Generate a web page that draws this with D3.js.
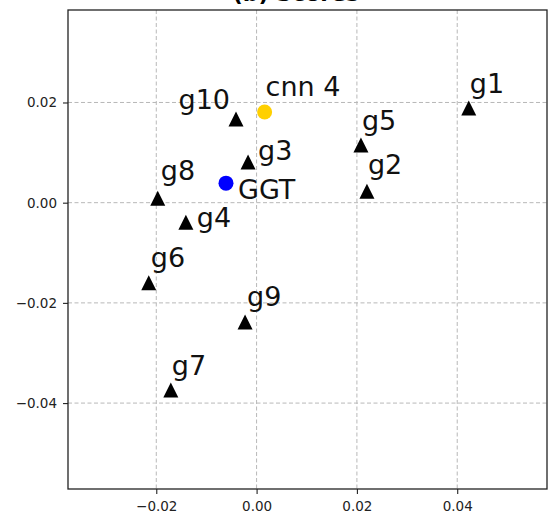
<!DOCTYPE html>
<html>
<head>
<meta charset="utf-8">
<script src="https://cdn.jsdelivr.net/npm/d3@7"></script>
<style>
  html, body { margin: 0; padding: 0; background: #fff; }
  svg { display: block; }
  text { font-family: "DejaVu Sans", sans-serif; }
</style>
</head>
<body>
<script>
// Embedding coordinates of the generators and the two reference models
const names   = ["g1", "g2", "g3", "g4", "g5", "g6", "g7", "g8", "g9", "g10", "cnn 4", "GGT"];
const xVals   = [0.0423, 0.0220, -0.0017, -0.0141, 0.0208, -0.0215, -0.0171, -0.0197, -0.0023, -0.0041, 0.0016, -0.0061];
const yVals   = [0.0189, 0.0023, 0.0081, -0.0039, 0.0115, -0.0160, -0.0374, 0.0009, -0.0238, 0.0167, 0.0181, 0.0039];
const kinds   = ["tri", "tri", "tri", "tri", "tri", "tri", "tri", "tri", "tri", "tri", "ref", "ref"];
const colors  = ["#000000", "#000000", "#000000", "#000000", "#000000", "#000000", "#000000", "#000000", "#000000", "#000000", "#ffd000", "#0000ff"];
const xTicks  = [-0.02, 0.00, 0.02, 0.04];
const yTicks  = [-0.04, -0.02, 0.00, 0.02];
const xDomain = [-0.0376, 0.0579];
const yDomain = [-0.05715, 0.03846];
const title   = "(b) Scores";

// label placement relative to each marker (pixels): [dx, dy, anchor]
const labelPlace = [
  [1, -15, "start"], [1, -17, "start"], [10, -2, "start"], [11, 5, "start"],
  [1, -15, "start"], [2, -16, "start"], [1, -15, "start"], [3, -18, "start"],
  [2, -16, "start"], [-6, -10, "end"], [1, -16, "start"], [12, 16, "start"]
];

const W = 548, H = 517;
const plot = { left: 68, right: 547, top: 10, bottom: 489 };

const svg = d3.select("body").append("svg").attr("width", W).attr("height", H);

const x = d3.scaleLinear().domain(xDomain).range([plot.left, plot.right]);
const y = d3.scaleLinear().domain(yDomain).range([plot.bottom, plot.top]);

// title (sits above the frame)
svg.append("text")
  .attr("x", 296).attr("y", 1)
  .attr("text-anchor", "middle")
  .style("font-size", "22px").attr("font-weight", "bold")
  .attr("fill", "#000")
  .text(title);

// grid
const grid = svg.append("g");
grid.selectAll("line.gx").data(xTicks).join("line")
  .attr("x1", d => x(d)).attr("x2", d => x(d))
  .attr("y1", plot.top).attr("y2", plot.bottom)
  .attr("stroke", "#b8b8b8").attr("stroke-width", 1).attr("stroke-dasharray", "4,2.5");
grid.selectAll("line.gy").data(yTicks).join("line")
  .attr("y1", d => y(d)).attr("y2", d => y(d))
  .attr("x1", plot.left).attr("x2", plot.right)
  .attr("stroke", "#b8b8b8").attr("stroke-width", 1).attr("stroke-dasharray", "4,2.5");

// axes
const fmt = d => (d < 0 ? "\u2212" : "") + Math.abs(d).toFixed(2);
const xAxis = svg.append("g").attr("transform", `translate(0,${plot.bottom})`)
  .call(d3.axisBottom(x).tickValues(xTicks).tickFormat(fmt).tickSize(5).tickPadding(7));
const yAxis = svg.append("g").attr("transform", `translate(${plot.left},0)`)
  .call(d3.axisLeft(y).tickValues(yTicks).tickFormat(fmt).tickSize(5).tickPadding(6));
[xAxis, yAxis].forEach(a => {
  a.attr("font-size", null).attr("font-family", null);
  a.select(".domain").remove();
  a.selectAll(".tick line").attr("stroke", "#222").attr("stroke-width", 1.1);
  a.selectAll(".tick text")
    .style("font-size", "13.5px")
    .style("font-family", "'DejaVu Sans', sans-serif")
    .attr("fill", "#222");
});

// frame
svg.append("rect")
  .attr("x", plot.left).attr("y", plot.top)
  .attr("width", plot.right - plot.left).attr("height", plot.bottom - plot.top)
  .attr("fill", "none").attr("stroke", "#222").attr("stroke-width", 1.3);

// points
const pts = names.map((n, i) => ({ name: n, x: xVals[i], y: yVals[i], kind: kinds[i], color: colors[i], place: labelPlace[i] }));
const tri = s => `M0,${-s}L${s},${s}L${-s},${s}Z`;

const marks = svg.append("g");
marks.selectAll("path").data(pts.filter(p => p.kind === "tri")).join("path")
  .attr("d", tri(7.5))
  .attr("transform", d => `translate(${x(d.x)},${y(d.y)})`)
  .attr("fill", d => d.color);
marks.selectAll("circle").data(pts.filter(p => p.kind === "ref")).join("circle")
  .attr("cx", d => x(d.x)).attr("cy", d => y(d.y)).attr("r", 7.5)
  .attr("fill", d => d.color);

// labels
svg.append("g").selectAll("text").data(pts).join("text")
  .attr("x", d => x(d.x) + d.place[0])
  .attr("y", d => y(d.y) + d.place[1])
  .attr("text-anchor", d => d.place[2])
  .style("font-size", "27px")
  .attr("fill", "#111")
  .text(d => d.name);
</script>
</body>
</html>
